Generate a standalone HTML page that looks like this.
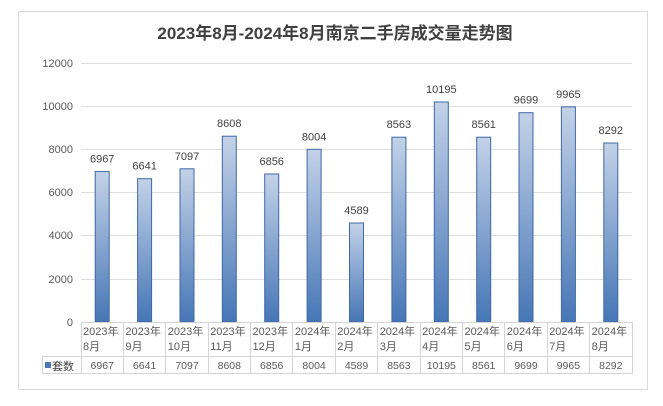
<!DOCTYPE html><html><head><meta charset="utf-8"><style>
body{margin:0;background:#fff;}
svg text{font-family:"Liberation Sans","Noto Sans CJK SC",sans-serif;}
</style></head><body>
<svg width="663" height="401" xmlns="http://www.w3.org/2000/svg">
<defs><linearGradient id="g" x1="0" y1="0" x2="0" y2="1"><stop offset="0" stop-color="#c3d2e8"/><stop offset="1" stop-color="#4676b6"/></linearGradient></defs>
<rect x="0" y="0" width="663" height="401" fill="#fff"/>
<rect x="18.5" y="11.5" width="629" height="378" fill="#fff" stroke="#d9d9d9"/>
<text x="335" y="39" text-anchor="middle" font-size="17" font-weight="bold" fill="#404040">2023年8月-2024年8月南京二手房成交量走势图</text>
<g stroke="#dedede" stroke-width="1">
<line x1="81" y1="63.5" x2="632" y2="63.5"/><line x1="81" y1="106.5" x2="632" y2="106.5"/><line x1="81" y1="149.5" x2="632" y2="149.5"/><line x1="81" y1="192.5" x2="632" y2="192.5"/><line x1="81" y1="235.5" x2="632" y2="235.5"/><line x1="81" y1="279.5" x2="632" y2="279.5"/>
</g>
<g font-size="11" fill="#595959" text-anchor="end">
<text x="73" y="67">12000</text><text x="73" y="110">10000</text><text x="73" y="153">8000</text><text x="73" y="196">6000</text><text x="73" y="239">4000</text><text x="73" y="283">2000</text><text x="73" y="326">0</text>
</g>
<g fill="url(#g)" stroke="#3f68a6" stroke-width="1">
<rect x="95.2" y="171.6" width="14" height="150.4"/>
<rect x="137.6" y="178.7" width="14" height="143.3"/>
<rect x="180" y="168.8" width="14" height="153.2"/>
<rect x="222.3" y="136.2" width="14" height="185.8"/>
<rect x="264.7" y="174" width="14" height="148"/>
<rect x="307.1" y="149.3" width="14" height="172.7"/>
<rect x="349.5" y="223" width="14" height="99"/>
<rect x="391.9" y="137.2" width="14" height="184.8"/>
<rect x="434.3" y="102" width="14" height="220"/>
<rect x="476.7" y="137.2" width="14" height="184.8"/>
<rect x="519" y="112.7" width="14" height="209.3"/>
<rect x="561.4" y="106.9" width="14" height="215.1"/>
<rect x="603.8" y="143" width="14" height="179"/>
</g>
<g font-size="11" fill="#404040" text-anchor="middle">
<text x="102.2" y="162.6">6967</text>
<text x="144.6" y="169.7">6641</text>
<text x="187" y="159.8">7097</text>
<text x="229.3" y="127.2">8608</text>
<text x="271.7" y="165">6856</text>
<text x="314.1" y="140.3">8004</text>
<text x="356.5" y="214">4589</text>
<text x="398.9" y="128.2">8563</text>
<text x="441.3" y="93">10195</text>
<text x="483.7" y="128.2">8561</text>
<text x="526" y="103.7">9699</text>
<text x="568.4" y="97.9">9965</text>
<text x="610.8" y="134">8292</text>
</g>
<g stroke="#d4d4d4" stroke-width="1" fill="none">
<line x1="81" y1="322.5" x2="632" y2="322.5"/><line x1="42" y1="356.5" x2="632" y2="356.5"/><line x1="42" y1="373.5" x2="632" y2="373.5"/><line x1="42.5" y1="356" x2="42.5" y2="374"/><line x1="632.5" y1="322" x2="632.5" y2="374"/>
<line x1="81.5" y1="322" x2="81.5" y2="374"/><line x1="123.5" y1="322" x2="123.5" y2="374"/><line x1="165.5" y1="322" x2="165.5" y2="374"/><line x1="208.5" y1="322" x2="208.5" y2="374"/><line x1="250.5" y1="322" x2="250.5" y2="374"/><line x1="292.5" y1="322" x2="292.5" y2="374"/><line x1="335.5" y1="322" x2="335.5" y2="374"/><line x1="377.5" y1="322" x2="377.5" y2="374"/><line x1="420.5" y1="322" x2="420.5" y2="374"/><line x1="462.5" y1="322" x2="462.5" y2="374"/><line x1="504.5" y1="322" x2="504.5" y2="374"/><line x1="547.5" y1="322" x2="547.5" y2="374"/><line x1="589.5" y1="322" x2="589.5" y2="374"/>
</g>
<g font-size="11" fill="#595959">
<text x="83" y="335">2023年</text><text x="83" y="350">8月</text>
<text x="125.4" y="335">2023年</text><text x="125.4" y="350">9月</text>
<text x="167.8" y="335">2023年</text><text x="167.8" y="350">10月</text>
<text x="210.2" y="335">2023年</text><text x="210.2" y="350">11月</text>
<text x="252.5" y="335">2023年</text><text x="252.5" y="350">12月</text>
<text x="294.9" y="335">2024年</text><text x="294.9" y="350">1月</text>
<text x="337.3" y="335">2024年</text><text x="337.3" y="350">2月</text>
<text x="379.7" y="335">2024年</text><text x="379.7" y="350">3月</text>
<text x="422.1" y="335">2024年</text><text x="422.1" y="350">4月</text>
<text x="464.5" y="335">2024年</text><text x="464.5" y="350">5月</text>
<text x="506.8" y="335">2024年</text><text x="506.8" y="350">6月</text>
<text x="549.2" y="335">2024年</text><text x="549.2" y="350">7月</text>
<text x="591.6" y="335">2024年</text><text x="591.6" y="350">8月</text>
</g>
<g font-size="10.5" fill="#595959" text-anchor="middle">
<text x="102.2" y="369">6967</text><text x="144.6" y="369">6641</text><text x="187" y="369">7097</text><text x="229.3" y="369">8608</text><text x="271.7" y="369">6856</text><text x="314.1" y="369">8004</text><text x="356.5" y="369">4589</text><text x="398.9" y="369">8563</text><text x="441.3" y="369">10195</text><text x="483.7" y="369">8561</text><text x="526" y="369">9699</text><text x="568.4" y="369">9965</text><text x="610.8" y="369">8292</text>
</g>
<rect x="45" y="362" width="6" height="6" fill="#4a78b5"/>
<text x="52" y="370" font-size="11" fill="#404040">套数</text>
</svg></body></html>
